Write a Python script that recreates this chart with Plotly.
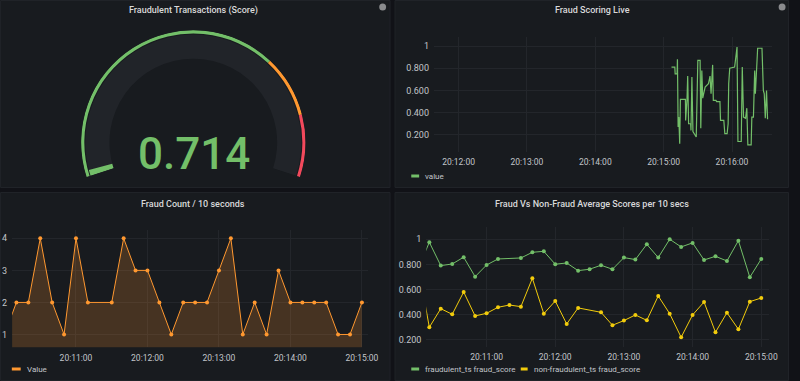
import plotly.graph_objects as go
import pandas as pd

W, H = 800, 381
DAY = "2021-06-01 "

# ---------------- data ----------------
gauge_title = "Fraudulent Transactions (Score)"
gauge_value = 0.714
gauge_bar_value = 0.015          # bar position in the captured (animating) frame
gauge_min, gauge_max = 0.0, 1.0
threshold_starts = [0.0, 0.70, 0.85]
threshold_colors = ["#73bf69", "#ff9830", "#f2495c"]

live_title = "Fraud Scoring Live"
live_start = "20:15:00"
live_offsets_s = [6.9, 9.8, 10.1, 11.8, 12.1, 12.7, 13.3, 14.1, 14.7, 19.1, 19.3, 20.5, 21.1, 21.9, 23.7,
                  24.0, 24.8, 25.7, 28.6, 30.0, 32.0, 32.6, 33.5, 34.3, 36.4, 39.3, 40.7, 41.6, 43.0, 43.6,
                  45.9, 46.5, 49.4, 49.9, 52.8, 53.7, 55.7, 56.6, 57.1, 58.0, 62.3, 64.4, 65.2, 68.1, 69.0,
                  70.1, 71.9, 73.0, 73.9, 76.8, 77.4, 78.8, 79.9, 80.5, 82.5, 86.3, 87.5, 88.3, 89.2, 89.8,
                  90.3, 91.2]
live_values = [0.81, 0.81, 0.75, 0.75, 0.88, 0.27, 0.36, 0.12, 0.52, 0.52, 0.33, 0.52, 0.73, 0.30, 0.30,
               0.24, 0.72, 0.23, 0.18, 0.87, 0.87, 0.26, 0.78, 0.53, 0.63, 0.66, 0.73, 0.57, 0.83, 0.51,
               0.51, 0.50, 0.50, 0.33, 0.33, 0.21, 0.21, 0.30, 0.66, 0.80, 0.81, 0.99, 0.14, 0.14, 0.81,
               0.36, 0.35, 0.44, 0.11, 0.11, 0.36, 0.36, 0.78, 0.57, 0.98, 0.98, 0.60, 0.57, 0.35, 0.51,
               0.60, 0.34]
live_legend = "value"

count_title = "Fraud Count / 10 seconds"
count_times = ["20:10:00", "20:10:10", "20:10:20", "20:10:30", "20:10:40", "20:10:50", "20:11:00",
               "20:11:10", "20:11:30", "20:11:40", "20:11:50", "20:12:00", "20:12:10", "20:12:20",
               "20:12:30", "20:12:40", "20:12:50", "20:13:00", "20:13:10", "20:13:20", "20:13:30",
               "20:13:40", "20:13:50", "20:14:00", "20:14:10", "20:14:20", "20:14:30", "20:14:40",
               "20:14:50", "20:15:00"]
count_values = [1, 2, 2, 4, 2, 1, 4, 2, 2, 4, 3, 3, 2, 1, 2, 2, 2, 3, 4, 1, 2, 1, 3, 2, 2, 2, 2, 1, 1, 2]
count_legend = "Value"

avg_title = "Fraud Vs Non-Fraud Average Scores per 10 secs"
fraud_times = ["20:10:00", "20:10:10", "20:10:20", "20:10:30", "20:10:40", "20:10:50", "20:11:00",
               "20:11:10", "20:11:30", "20:11:40", "20:11:50", "20:12:00", "20:12:10", "20:12:20",
               "20:12:30", "20:12:40", "20:12:50", "20:13:00", "20:13:10", "20:13:20", "20:13:30",
               "20:13:40", "20:13:50", "20:14:00", "20:14:10", "20:14:20", "20:14:30", "20:14:40",
               "20:14:50", "20:15:00"]
fraud_scores = [0.76, 0.976, 0.790, 0.803, 0.857, 0.702, 0.795, 0.843, 0.851, 0.896, 0.904, 0.801, 0.811,
                0.750, 0.761, 0.793, 0.761, 0.854, 0.838, 0.960, 0.854, 1.0, 0.939, 0.971, 0.835, 0.864,
                0.827, 0.989, 0.697, 0.843]
nonfraud_times = ["20:10:00", "20:10:10", "20:10:20", "20:10:30", "20:10:40", "20:10:50", "20:11:00",
                  "20:11:10", "20:11:20", "20:11:30", "20:11:40", "20:11:50", "20:12:00", "20:12:10",
                  "20:12:20", "20:12:40", "20:12:50", "20:13:00", "20:13:10", "20:13:20", "20:13:30",
                  "20:13:40", "20:13:50", "20:14:00", "20:14:10", "20:14:20", "20:14:30", "20:14:40",
                  "20:14:50", "20:15:00"]
nonfraud_scores = [0.80, 0.299, 0.447, 0.402, 0.580, 0.389, 0.410, 0.458, 0.476, 0.463, 0.689, 0.407,
                   0.508, 0.325, 0.453, 0.418, 0.315, 0.352, 0.397, 0.354, 0.548, 0.407, 0.219, 0.397,
                   0.500, 0.259, 0.415, 0.283, 0.503, 0.532]
fraud_legend = "fraudulent_ts fraud_score"
nonfraud_legend = "non-fraudulent_ts fraud_score"

score_ticks = [0.2, 0.4, 0.6, 0.8, 1.0]
score_ticktext = ["0.200", "0.400", "0.600", "0.800", "1"]
count_ticks = [1, 2, 3, 4]

# ---------------- style ----------------
PAGE_BG = "#111217"
PANEL_BG = "#181b1f"
PANEL_LINE = "#202328"
GRID = "#23262b"
TICK_COLOR = "#c2c5ca"
TITLE_COLOR = "#d8d9da"
FONT = "Roboto"
GREEN, ORANGE, YELLOW = "#73bf69", "#ff9830", "#f2cc0c"


def px(x):
    return x / W


def py(y):
    return 1 - y / H


def ts(hms):
    return pd.Timestamp(DAY + hms)


fig = go.Figure()

# ---- gauge (polar bars) ----
SWEEP_START, SWEEP = 198.0, 216.0


def frac_angle(v):
    return SWEEP_START - SWEEP * (v - gauge_min) / (gauge_max - gauge_min)


R_OUT = 114.0
fig.add_trace(go.Barpolar(theta=[frac_angle((gauge_min + gauge_max) / 2)], width=[SWEEP], base=[85], r=[24.5],
                          marker=dict(color="#212429", line=dict(width=0)), subplot="polar", showlegend=False,
                          hoverinfo="skip"))
ends = threshold_starts[1:] + [gauge_max]
for s, e, c in zip(threshold_starts, ends, threshold_colors):
    fig.add_trace(go.Barpolar(theta=[frac_angle((s + e) / 2)], width=[SWEEP * (e - s) / (gauge_max - gauge_min)],
                              base=[110.5], r=[3.2], marker=dict(color=c, line=dict(width=0)),
                              subplot="polar", showlegend=False, hoverinfo="skip"))
fig.add_trace(go.Barpolar(theta=[frac_angle((gauge_min + gauge_bar_value) / 2)],
                          width=[SWEEP * (gauge_bar_value - gauge_min) / (gauge_max - gauge_min)],
                          base=[85], r=[24.5], marker=dict(color=GREEN, line=dict(width=0)),
                          subplot="polar", showlegend=False, hoverinfo="skip"))

# ---- live scoring ----
live_x = ts(live_start) + pd.to_timedelta(live_offsets_s, unit="s")
fig.add_trace(go.Scatter(x=live_x, y=live_values, mode="lines", line=dict(color=GREEN, width=1.2),
                         xaxis="x", yaxis="y", showlegend=False))

# ---- fraud count ----
fig.add_trace(go.Scatter(x=[ts(t) for t in count_times], y=count_values, mode="lines+markers",
                         line=dict(color=ORANGE, width=1), marker=dict(color=ORANGE, size=4),
                         fill="tozeroy", fillcolor="rgba(255,152,48,0.2)",
                         xaxis="x2", yaxis="y2", showlegend=False))

# ---- averages ----
fig.add_trace(go.Scatter(x=[ts(t) for t in fraud_times], y=fraud_scores, mode="lines+markers",
                         line=dict(color=GREEN, width=1), marker=dict(color=GREEN, size=4),
                         xaxis="x3", yaxis="y3", showlegend=False))
fig.add_trace(go.Scatter(x=[ts(t) for t in nonfraud_times], y=nonfraud_scores, mode="lines+markers",
                         line=dict(color=YELLOW, width=1), marker=dict(color=YELLOW, size=4),
                         xaxis="x3", yaxis="y3", showlegend=False))

# ---------------- layout ----------------
xtickfont = dict(family=FONT, size=8.5, color=TICK_COLOR)
ytickfont = dict(family=FONT, size=9, color=TICK_COLOR)
xcommon = dict(type="date", tickformat="%H:%M:%S", dtick=60000, showgrid=True, gridcolor=GRID, gridwidth=1,
               zeroline=False, showline=False, ticks="", tickfont=xtickfont, fixedrange=True,
               ticklabelstandoff=4)
ycommon = dict(showgrid=True, gridcolor=GRID, gridwidth=1, zeroline=False, showline=False, ticks="",
               tickfont=ytickfont, fixedrange=True, ticklabelstandoff=4)

fig.update_layout(
    width=W, height=H, margin=dict(l=0, r=0, t=0, b=0),
    paper_bgcolor=PAGE_BG, plot_bgcolor="rgba(0,0,0,0)",
    font=dict(family=FONT, color=TICK_COLOR),
    showlegend=False, hovermode=False,
    polar=dict(domain=dict(x=[px(196 - R_OUT), px(196 + R_OUT)], y=[py(143 + 0.309 * R_OUT), py(143 - R_OUT)]),
               sector=[SWEEP_START - SWEEP, SWEEP_START], hole=0, bgcolor="rgba(0,0,0,0)",
               radialaxis=dict(range=[0, R_OUT], visible=False, showgrid=False, showline=False,
                               showticklabels=False, ticks=""),
               angularaxis=dict(visible=False, showgrid=False, showline=False, showticklabels=False, ticks="",
                                direction="counterclockwise", rotation=0),
               barmode="overlay"),
    xaxis=dict(domain=[px(440), px(783)], anchor="y",
               range=[ts("20:11:38.4"), ts("20:16:35.3")], **xcommon),
    yaxis=dict(domain=[py(151.7), py(36.7)], anchor="x", range=[0.048, 1.084],
               tickvals=score_ticks, ticktext=score_ticktext, **ycommon),
    xaxis2=dict(domain=[px(12.3), px(373)], anchor="y2",
                range=[ts("20:10:06.4"), ts("20:15:05")], **xcommon),
    yaxis2=dict(domain=[py(347.3), py(230)], anchor="x2", range=[0.6, 4.26],
                tickvals=count_ticks, **ycommon),
    xaxis3=dict(domain=[px(432.3), px(780)], anchor="y3",
                range=[ts("20:10:07.4"), ts("20:15:07")], **xcommon),
    yaxis3=dict(domain=[py(346.7), py(226.7)], anchor="x3", range=[0.144, 1.10],
                tickvals=score_ticks, ticktext=score_ticktext, **ycommon),
)

shapes = []
for (x0, y0, x1, y1) in [(0, 0, 396, 188), (400, 0, 800, 188), (0, 192, 396, 381), (400, 192, 800, 381)]:
    shapes.append(dict(type="rect", xref="paper", yref="paper", x0=px(x0 + 0.5), x1=px(x1 - 0.5),
                       y0=py(y1 - 0.5), y1=py(y0 + 0.5), fillcolor=PANEL_BG,
                       line=dict(color=PANEL_LINE, width=1), layer="below"))
for cx, cy in [(388, 7), (793, 7)]:
    shapes.append(dict(type="circle", xref="paper", yref="paper", x0=px(cx - 3.5), x1=px(cx + 3.5),
                       y0=py(cy + 3.5), y1=py(cy - 3.5), fillcolor="#8a8b8e", line=dict(width=0)))
for (x0, x1, yy, c) in [(417, 425, 176, GREEN), (12, 21, 369, ORANGE), (417, 425, 369, GREEN),
                        (528, 535, 369, YELLOW)]:
    shapes.append(dict(type="line", xref="paper", yref="paper", x0=px(x0), x1=px(x1), y0=py(yy), y1=py(yy),
                       line=dict(color=c, width=3)))
fig.update_layout(shapes=shapes)

ann = []
for text, x, y in [(gauge_title, 196, 10), (live_title, 600.5, 10), (count_title, 196, 203.5),
                   (avg_title, 600, 204)]:
    ann.append(dict(text=text, x=px(x), y=py(y), xref="paper", yref="paper", showarrow=False,
                    xanchor="center", yanchor="middle",
                    font=dict(family=FONT, size=9, color=TITLE_COLOR, weight=500)))
for text, x, y in [(live_legend, 429, 176), (count_legend, 25, 369), (fraud_legend, 429, 369),
                   (nonfraud_legend, 539, 369)]:
    ann.append(dict(text=text, x=px(x), y=py(y), xref="paper", yref="paper", showarrow=False,
                    xanchor="left", yanchor="middle", font=dict(family=FONT, size=8, color=TICK_COLOR)))
ann.append(dict(text=f"{gauge_value:.3f}", x=px(197), y=py(154), xref="paper", yref="paper", showarrow=False,
                xanchor="center", yanchor="middle", font=dict(family=FONT, size=44, color=GREEN, weight=500)))
fig.update_layout(annotations=ann)

fig.write_html("out.html", config={"displayModeBar": False, "staticPlot": True},
               post_script="document.body.style.margin='0';document.body.style.overflow='hidden';")
